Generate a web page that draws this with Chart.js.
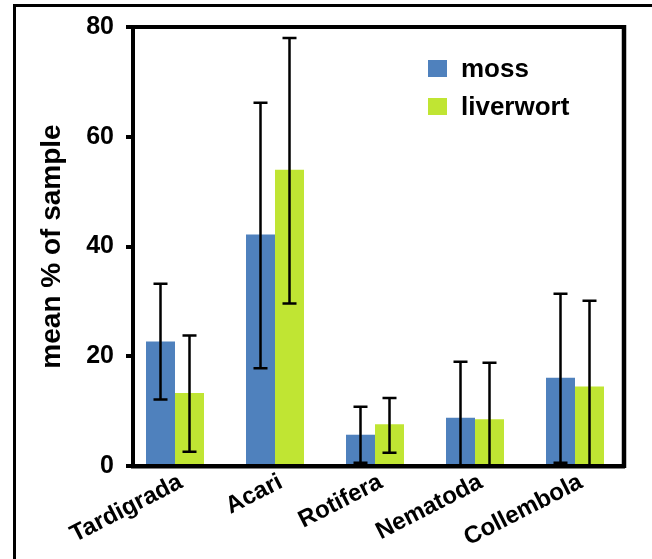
<!DOCTYPE html>
<html>
<head>
<meta charset="utf-8">
<script src="https://cdn.jsdelivr.net/npm/chart.js@4.4.1/dist/chart.umd.min.js"></script>
<style>
  html, body { margin: 0; padding: 0; background: #fff; overflow: hidden; }
  #wrap { position: relative; width: 652px; height: 559px; }
  #frame { position: absolute; left: 13px; top: 4px; width: 700px; height: 600px; border: 3px solid #000; box-sizing: border-box; }
  canvas { position: absolute; left: 0; top: 0; }
</style>
</head>
<body>
<div id="wrap">
  <div id="frame"></div>
  <canvas id="c" width="652" height="559"></canvas>
</div>
<script>
// taxa on the x axis
const categories = ['Tardigrada', 'Acari', 'Rotifera', 'Nematoda', 'Collembola'];
const yTicks = [0, 20, 40, 60, 80];

// mean % of sample
const moss = [22.7, 42.2, 5.7, 8.8, 16.1];
const liverwort = [13.3, 54.0, 7.6, 8.5, 14.5];

// error bar ends
const mossHigh = [33.2, 66.2, 10.8, 19.0, 31.4];
const mossLow = [12.1, 17.8, 0.6, -1.4, 0.6];
const liverwortHigh = [23.8, 78.0, 12.4, 18.8, 30.1];
const liverwortLow = [2.6, 29.6, 2.4, -1.8, -1.1];

const BLUE = '#4f81bd';
const GREEN = '#c0e533';
const FONT = "'Liberation Sans', Arial, sans-serif";

const errorBars = {
  id: 'errorBars',
  afterDatasetsDraw(chart) {
    const ctx = chart.ctx, ca = chart.chartArea;
    const y = chart.scales.y;
    ctx.save();
    ctx.beginPath();
    ctx.rect(ca.left, ca.top - 10, ca.right - ca.left, ca.bottom - ca.top + 10);
    ctx.clip();
    ctx.strokeStyle = '#000';
    ctx.lineWidth = 2.5;
    chart.data.datasets.forEach((ds, di) => {
      const meta = chart.getDatasetMeta(di);
      meta.data.forEach((bar, i) => {
        const x = bar.x;
        const yh = y.getPixelForValue(ds.high[i]);
        const yl = y.getPixelForValue(ds.low[i]);
        ctx.beginPath();
        ctx.moveTo(x, yh); ctx.lineTo(x, yl);
        ctx.moveTo(x - 7, yh); ctx.lineTo(x + 7, yh);
        ctx.moveTo(x - 7, yl); ctx.lineTo(x + 7, yl);
        ctx.stroke();
      });
    });
    ctx.restore();
  }
};

const frameAndLegend = {
  id: 'frameAndLegend',
  afterDraw(chart) {
    const ctx = chart.ctx, ca = chart.chartArea;
    ctx.save();
    ctx.strokeStyle = '#000';
    ctx.lineWidth = 4;
    ctx.beginPath();
    ctx.moveTo(ca.left, ca.top);
    ctx.lineTo(ca.right, ca.top);
    ctx.stroke();
    ctx.lineWidth = 4.5;
    ctx.beginPath();
    ctx.moveTo(ca.right, ca.top - 2);
    ctx.lineTo(ca.right, ca.bottom + 2);
    ctx.stroke();
    // legend
    ctx.font = 'bold 26px ' + FONT;
    ctx.textBaseline = 'alphabetic';
    ctx.textAlign = 'left';
    chart.data.datasets.forEach((ds, i) => {
      const top = 60 + i * 38;
      ctx.fillStyle = ds.backgroundColor;
      ctx.fillRect(428, top, 19, 17);
      ctx.fillStyle = '#000';
      ctx.fillText(ds.label, 461, top + 17);
    });
    ctx.restore();
  }
};

new Chart(document.getElementById('c'), {
  type: 'bar',
  data: {
    datasets: [
      { label: 'moss', data: moss.map((v, i) => ({ x: i, y: v })), high: mossHigh, low: mossLow,
        backgroundColor: BLUE, borderWidth: 0 },
      { label: 'liverwort', data: liverwort.map((v, i) => ({ x: i, y: v })), high: liverwortHigh, low: liverwortLow,
        backgroundColor: GREEN, borderWidth: 0 }
    ]
  },
  options: {
    responsive: false,
    animation: false,
    devicePixelRatio: 1,
    categoryPercentage: 0.58,
    barPercentage: 1.0,
    layout: { padding: { left: 0, top: 27, right: 28, bottom: 0 } },
    plugins: { legend: { display: false }, tooltip: { enabled: false } },
    scales: {
      x: {
        type: 'linear',
        offset: false,
        min: -0.42,
        max: 4.49,
        z: 1,
        afterBuildTicks: s => { s.ticks = categories.map((c, i) => ({ value: i })); },
        afterFit: s => { s.height = 559 - 466; },
        grid: { display: false, offset: false, drawOnChartArea: false, drawTicks: false },
        border: { display: true, color: '#000', width: 4.5 },
        ticks: {
          callback: v => categories[v],
          minRotation: 27,
          maxRotation: 27,
          autoSkip: false,
          padding: 2,
          labelOffset: 6,
          color: '#000',
          font: { family: FONT, size: 24, weight: 'bold' }
        }
      },
      y: {
        min: 0,
        max: 80,
        z: 1,
        afterBuildTicks: s => { s.ticks = yTicks.map(v => ({ value: v })); },
        afterFit: s => { s.width = 133; },
        grid: { drawOnChartArea: false, drawTicks: true, tickLength: 7, color: '#000', lineWidth: 4 },
        border: { display: true, color: '#000', width: 4 },
        ticks: {
          padding: 12,
          color: '#000',
          font: { family: FONT, size: 25, weight: 'bold' }
        },
        title: {
          display: true,
          text: 'mean % of sample',
          color: '#000',
          padding: { top: 35, bottom: 0 },
          font: { family: FONT, size: 28, weight: 'bold' }
        }
      }
    }
  },
  plugins: [errorBars, frameAndLegend]
});
</script>
</body>
</html>
